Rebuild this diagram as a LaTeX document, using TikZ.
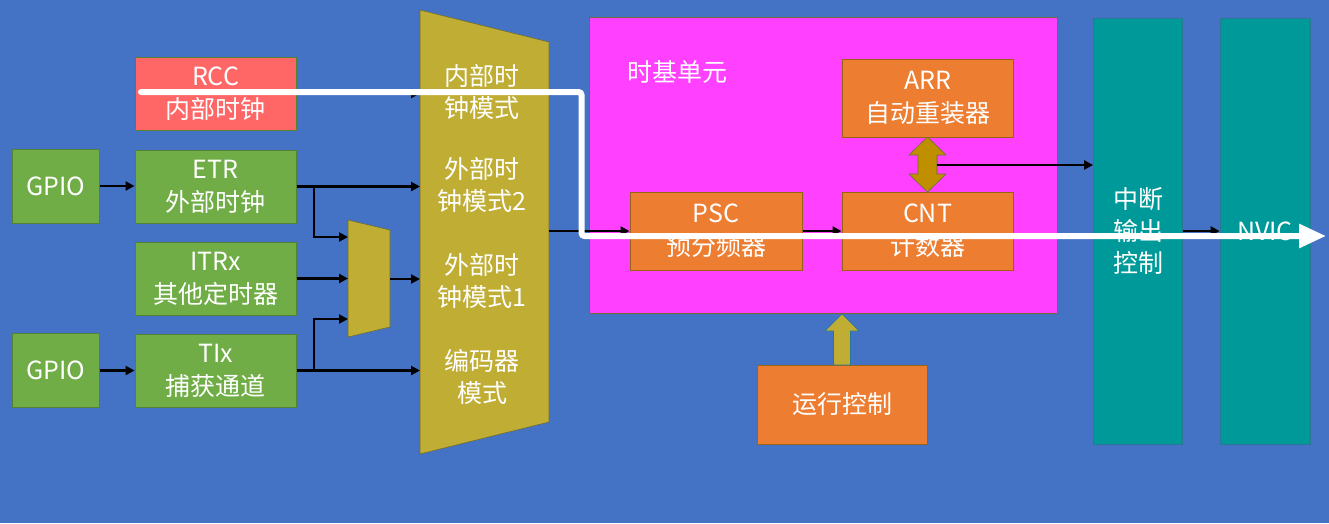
\documentclass[tikz,border=0pt]{standalone}
\usepackage{fontspec}
\setmainfont{Noto Sans CJK SC}
\usetikzlibrary{arrows.meta}
\definecolor{bg}{RGB}{68,114,196}
\definecolor{grn}{RGB}{112,173,71}
\definecolor{grnd}{RGB}{84,130,53}
\definecolor{rccc}{RGB}{255,102,102}
\definecolor{org}{RGB}{237,125,49}
\definecolor{orgd}{RGB}{150,100,20}
\definecolor{pnk}{RGB}{255,64,255}
\definecolor{tl}{RGB}{0,153,153}
\definecolor{tld}{RGB}{40,120,150}
\definecolor{gold}{RGB}{192,173,52}
\definecolor{goldd}{RGB}{191,143,0}
\definecolor{oliv}{RGB}{110,110,50}
\begin{document}
\begin{tikzpicture}[x=1pt,y=-1pt,
  box/.style={draw, line width=1pt, inner sep=0pt, align=center, text=white, font=\fontsize{25}{33}\selectfont},
  gbox/.style={box, fill=grn, draw=grnd},
  rbox/.style={box, fill=rccc, draw=grnd},
  obox/.style={box, fill=org, draw=orgd},
  tbox/.style={box, fill=tl, draw=tld, line width=0.8pt, font=\fontsize{25}{32}\selectfont},
  pbox/.style={box, fill=pnk, draw=oliv, line width=0.8pt},
  txt/.style={inner sep=0pt, align=center, text=white, font=\fontsize{25}{32}\selectfont},
  mux/.style={fill=gold, draw=oliv, line width=0.6pt},
  arr/.style={draw=black, line width=2.8pt, -{Triangle[length=9pt,width=9pt]}},
  wline/.style={draw=white, line width=6pt, rounded corners=3pt, line cap=round, -{Triangle[length=27pt,width=23pt]}}
]
\fill[bg] (0,0) rectangle (1329,523);
\useasboundingbox (0,0) rectangle (1329,523);

% left boxes
\node[gbox, minimum width=87pt, minimum height=74pt] (gpio1) at (55.5,186) {GPIO};
\node[rbox, minimum width=161pt, minimum height=73pt] (rcc) at (215.5,93.5) {RCC\\内部时钟};
\node[gbox, minimum width=161pt, minimum height=73pt] (etr) at (215.5,186.5) {ETR\\外部时钟};
\node[gbox, minimum width=161pt, minimum height=73pt] (itrx) at (215.5,278.5) {ITRx\\其他定时器};
\node[gbox, minimum width=87pt, minimum height=74pt] (gpio2) at (55.5,370.5) {GPIO};
\node[gbox, minimum width=161pt, minimum height=73pt] (tix) at (215.5,370.5) {TIx\\捕获通道};

% multiplexers
\path[mux] (420,10) -- (549,42) -- (549,422) -- (420,454) -- cycle;
\path[mux] (348,220) -- (390,230) -- (390,327) -- (348,337) -- cycle;
\coordinate (bigL) at (420,0);
\coordinate (bigR) at (549,0);
\coordinate (smL) at (348,0);
\coordinate (smR) at (390,279);
\coordinate (br) at (314,0);
\coordinate (sm1) at (348,237);
\coordinate (sm3) at (348,319);
\node[txt] (m1) at (482,92) {内部时\\钟模式};
\node[txt] (m2) at (482,185) {外部时\\钟模式2};
\node[txt] (m3) at (482,281) {外部时\\钟模式1};
\node[txt] (m4) at (482,376.5) {编码器\\模式};

% time base unit
\node[pbox, minimum width=468pt, minimum height=296pt] (tbu) at (823,165) {};
\node[txt, anchor=west] (tbul) at (627,72) {时基单元};
\node[obox, minimum width=171pt, minimum height=78pt] (arrb) at (927.5,98) {ARR\\自动重装器};
\node[obox, minimum width=172pt, minimum height=78pt] (psc) at (716,231) {PSC\\预分频器};
\node[obox, minimum width=171pt, minimum height=78pt] (cnt) at (927.5,231) {CNT\\计数器};
\node[obox, minimum width=170pt, minimum height=79pt] (run) at (842,404.5) {运行控制};

% right bars
\node[tbox, minimum width=89pt, minimum height=426pt] (intc) at (1138,231) {中断\\输出\\控制};
\node[tbox, minimum width=90pt, minimum height=426pt] (nvic) at (1265,231) {NVIC};

% block arrows
\path[fill=goldd, draw=oliv, line width=0.6pt]
  (927.5,137) -- (946,155) -- (937,155) -- (937,174) -- (946,174) -- (927.5,192)
  -- (909,174) -- (918,174) -- (918,155) -- (909,155) -- cycle;
\path[fill=gold, draw=tld, line width=0.6pt]
  (842,314) -- (859,331) -- (850.5,331) -- (850.5,365) -- (833.5,365) -- (833.5,331) -- (825,331) -- cycle;

% connectors
\draw[arr] (gpio1.east) -- (gpio1.east -| etr.west);
\draw[arr] (gpio2.east) -- (tix.west);
\draw[arr] (rcc.east) -- (rcc.east -| bigL);
\draw[arr] (etr.east) -- (etr.east -| bigL);
\draw[arr] (etr.east -| br) |- (sm1);
\draw[arr] (itrx.east) -- (itrx.east -| smL);
\draw[arr] (smR) -- (smR -| bigL);
\draw[arr] (tix.east) -- (tix.east -| bigL);
\draw[arr] (tix.east -| br) |- (sm3);
\draw[arr] (psc.west -| bigR) -- (psc.west);
\draw[arr] (psc.east) -- (cnt.west);
\coordinate (ua) at (937,165);
\draw[arr] (ua) -- (ua -| intc.west);
\draw[arr] (intc.east) -- (nvic.west);

% highlighted path
\coordinate (w0) at (141,92);
\coordinate (w1) at (581.5,92);
\coordinate (w2) at (581.5,236);
\coordinate (w3) at (1326,236);
\draw[wline] (w0) -- (w1) -- (w2) -- (w3);
\end{tikzpicture}
\end{document}
